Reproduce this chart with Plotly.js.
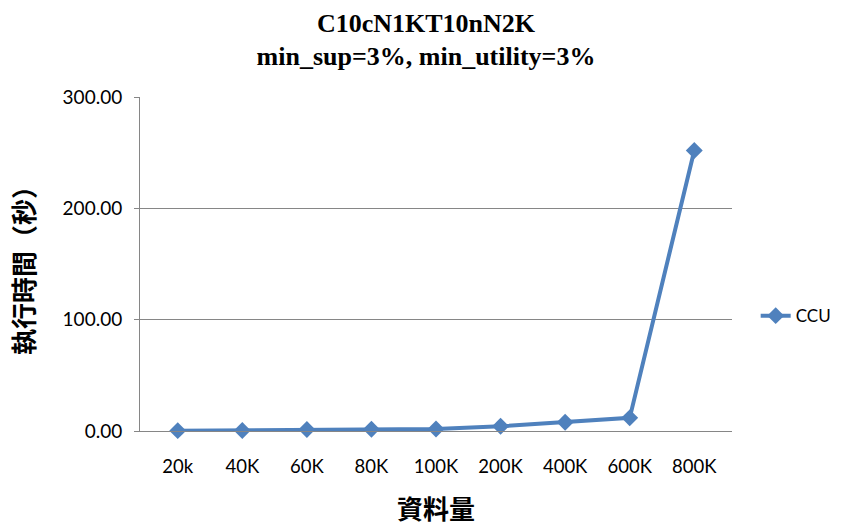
<!DOCTYPE html>
<html><head><meta charset="utf-8">
<script src="https://cdn.plot.ly/plotly-3.0.1.min.js"></script>
<style>body{margin:0;background:#fff}#c{width:852px;height:526px}</style>
</head><body><div id="c"></div>
<script>
const categories = ["20k","40K","60K","80K","100K","200K","400K","600K","800K"];
const ccu = [0.3, 0.5, 1.4, 1.6, 1.8, 4.2, 7.8, 11.8, 252];
const seriesName = "CCU";

Plotly.newPlot("c", [{
  x: categories, y: ccu, name: seriesName, type: "scatter", mode: "lines+markers",
  line: {color: "#4F81BD", width: 4},
  marker: {symbol: "diamond", size: 13, color: "#4F81BD"},
  cliponaxis: false
}], {
  width: 852, height: 526,
  margin: {l: 140, r: 120, t: 97, b: 95},
  paper_bgcolor: "#fff", plot_bgcolor: "#fff",
  title: {text: "<b>C10cN1KT10nN2K<br>min_sup=3%, min_utility=3%</b>", x: 0.5, xanchor: "center", y: 0.94, yanchor: "middle",
    font: {family: "Liberation Serif", size: 26, color: "#000"}},
  xaxis: {type: "category", showgrid: false, showline: true, linecolor: "#868686", linewidth: 1,
    ticks: "", tickfont: {family: "Lato, Open Sans, sans-serif", size: 18.5, color: "#000"},
    ticklabelstandoff: 19,
    title: {text: "<b>資料量</b>", font: {family: "Noto Sans CJK TC", size: 26, color: "#000"}, standoff: 28},
    zeroline: false},
  yaxis: {range: [0, 300], dtick: 100, tickformat: ".2f", showgrid: true, gridcolor: "#868686", gridwidth: 1,
    showline: true, linecolor: "#868686", ticks: "outside", ticklen: 5, tickcolor: "#868686",
    ticklabelstandoff: 8,
    tickfont: {family: "Lato, Open Sans, sans-serif", size: 19, color: "#000"},
    title: {text: "<b>執行時間（秒）</b>", font: {family: "Noto Sans CJK TC", size: 26, color: "#000"}, standoff: 20},
    zeroline: false},
  showlegend: true,
  legend: {x: 1.04, xanchor: "left", y: 0.344, yanchor: "middle", borderwidth: 0,
    font: {family: "Lato, Open Sans, sans-serif", size: 17, color: "#000"}}
}, {displayModeBar: false});
</script></body></html>
